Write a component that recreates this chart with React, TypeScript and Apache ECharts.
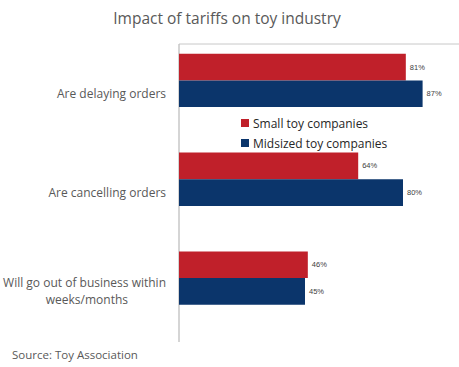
import React, { useEffect, useRef } from "react";
import * as echarts from "echarts";

const categories = [
  "Are delaying orders",
  "Are cancelling orders",
  "Will go out of business within\nweeks/months",
];
const smallCompanies = [81, 64, 46];
const midsizedCompanies = [87, 80, 45];
const seriesNames = ["Small toy companies", "Midsized toy companies"];

const FONT = "'Open Sans', 'Noto Sans', sans-serif";

export default function App() {
  const ref = useRef<HTMLDivElement>(null);
  useEffect(() => {
    if (!ref.current) return;
    const chart = echarts.init(ref.current, null, { renderer: "svg" });
    chart.setOption({
      animation: false,
      backgroundColor: "#ffffff",
      title: {
        text: "Impact of tariffs on toy industry",
        left: 222,
        top: 5,
        textAlign: "center",
        textStyle: { fontFamily: FONT, fontSize: 15.5, fontWeight: "normal", color: "#595959" },
      },
      legend: {
        orient: "vertical",
        left: 236,
        top: 112,
        itemWidth: 8,
        itemHeight: 8,
        itemGap: 8,
        icon: "rect",
        data: seriesNames,
        textStyle: { fontFamily: FONT, fontSize: 12, color: "#262626", padding: [0, 0, 0, -1] },
      },
      grid: { left: 179, right: 0, top: 31, height: 296.5, containLabel: false, outerBoundsMode: "none" },
      xAxis: {
        type: "value",
        min: 0,
        max: 100,
        show: false,
      },
      yAxis: {
        type: "category",
        inverse: true,
        data: categories,
        axisLine: { show: false },
        axisTick: { show: false },
        axisLabel: {
          margin: 13,
          align: "right",
          formatter: (v: string) => {
            const parts = v.split("\n");
            if (parts.length === 1) return "{a|" + v + "}";
            return "{a|" + parts[0] + "}\n{b|" + parts[1] + "}";
          },
          rich: {
            a: { fontFamily: FONT, fontSize: 12, color: "#595959", lineHeight: 17 },
            b: { fontFamily: FONT, fontSize: 12, color: "#595959", lineHeight: 17, padding: [0, 38, 0, 0] },
          },
          padding: [26, 0, 0, 0],
        },
      },
      series: [
        {
          name: seriesNames[0],
          type: "bar",
          data: smallCompanies,
          barGap: "0%",
          barCategoryGap: "46%",
          itemStyle: { color: "#C0202A" },
          label: {
            show: true,
            position: "right",
            distance: 4,
            formatter: "{c}%",
            fontFamily: "'Liberation Sans', Arial, sans-serif",
            fontSize: 7.5,
            color: "#404040",
          },
        },
        {
          name: seriesNames[1],
          type: "bar",
          data: midsizedCompanies,
          itemStyle: { color: "#0B356B" },
          label: {
            show: true,
            position: "right",
            distance: 4,
            formatter: "{c}%",
            fontFamily: "'Liberation Sans', Arial, sans-serif",
            fontSize: 7.5,
            color: "#404040",
          },
        },
      ],
      graphic: [
        {
          type: "line",
          shape: { x1: 179, y1: 44, x2: 459, y2: 44 },
          style: { stroke: "#c8c8c8", lineWidth: 1 },
          z: 0,
        },
        {
          type: "line",
          shape: { x1: 179, y1: 44, x2: 179, y2: 342 },
          style: { stroke: "#bfbfbf", lineWidth: 1.3 },
          z: 0,
        },
        {
          type: "text",
          left: 12,
          top: 348,
          style: { text: "Source: Toy Association", fontFamily: FONT, fontSize: 11.5, fill: "#595959" },
        },
      ],
    });
    return () => chart.dispose();
  }, []);
  return <div ref={ref} style={{ width: 459, height: 367, position: "absolute", left: 0, top: 0 }} />;
}
